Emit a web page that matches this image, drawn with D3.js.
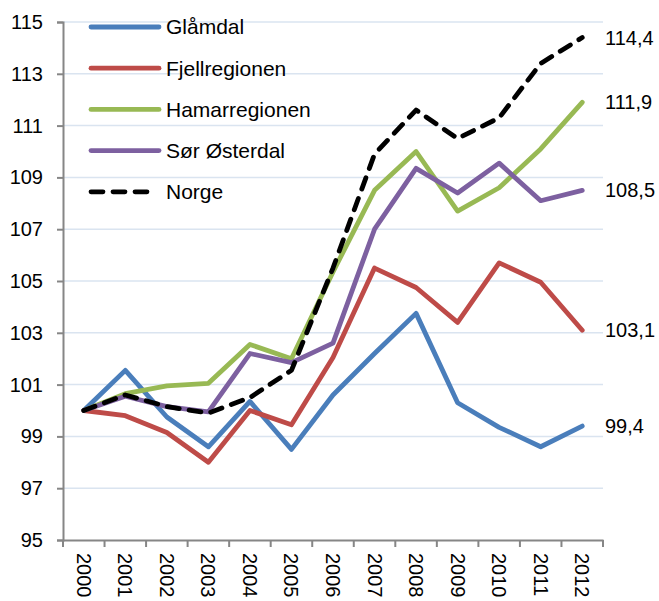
<!DOCTYPE html>
<html>
<head>
<meta charset="utf-8">
<script src="https://cdn.jsdelivr.net/npm/d3@7"></script>
<style>
  body { margin: 0; background: #fff; }
  text { font-family: "Liberation Sans", Arial, sans-serif; fill: #000; }
</style>
</head>
<body>
<div id="chart"></div>
<script>
// data
var years = ["2000", "2001", "2002", "2003", "2004", "2005", "2006", "2007", "2008", "2009", "2010", "2011", "2012"];
var glamdal = [100, 101.55, 99.75, 98.6, 100.35, 98.5, 100.6, 102.2, 103.75, 100.3, 99.35, 98.6, 99.4];
var fjellregionen = [100, 99.8, 99.15, 98.0, 100.0, 99.45, 102.05, 105.5, 104.75, 103.4, 105.7, 104.95, 103.1];
var hamarregionen = [100, 100.65, 100.95, 101.05, 102.55, 102.0, 105.35, 108.5, 110.0, 107.7, 108.6, 110.1, 111.9];
var sorOsterdal = [100, 100.55, 100.15, 99.95, 102.2, 101.85, 102.6, 107.0, 109.35, 108.4, 109.55, 108.1, 108.5];
var norge = [100, 100.6, 100.15, 99.9, 100.5, 101.55, 105.5, 109.9, 111.6, 110.5, 111.3, 113.4, 114.4];
var endLabels = ["99,4", "103,1", "111,9", "108,5", "114,4"];
var yTicks = [95, 97, 99, 101, 103, 105, 107, 109, 111, 113, 115];

var series = [
  { name: "Glåmdal", values: glamdal, color: "#4a7ebb", dash: null },
  { name: "Fjellregionen", values: fjellregionen, color: "#be4b48", dash: null },
  { name: "Hamarregionen", values: hamarregionen, color: "#98b954", dash: null },
  { name: "Sør Østerdal", values: sorOsterdal, color: "#7d60a0", dash: null },
  { name: "Norge", values: norge, color: "#000000", dash: "12,10" }
];

var width = 659, height = 601;
var plot = { left: 63, right: 603, top: 22, bottom: 540 };

var svg = d3.select("#chart").append("svg")
  .attr("width", width)
  .attr("height", height);

var x = d3.scaleBand().domain(years).range([plot.left, plot.right]).padding(0);
var y = d3.scaleLinear().domain([95, 115]).range([plot.bottom, plot.top]);

// gridlines
svg.append("g").selectAll("line").data(yTicks.slice(1)).enter()
  .append("line")
  .attr("x1", plot.left).attr("x2", plot.right)
  .attr("y1", function (d) { return y(d); })
  .attr("y2", function (d) { return y(d); })
  .attr("stroke", "#dae4f0")
  .attr("stroke-width", 1.5);

// y axis
var yAxis = svg.append("g")
  .attr("transform", "translate(" + plot.left + ",0)")
  .call(d3.axisLeft(y).tickValues(yTicks).tickSize(6).tickPadding(14).tickFormat(d3.format("d")));
yAxis.select(".domain").attr("stroke", "#868686").attr("stroke-width", 2);
yAxis.selectAll(".tick line").attr("stroke", "#868686").attr("stroke-width", 2);
yAxis.selectAll("text").style("font-size", "20px").attr("fill", "#000")
  .style("font-family", "Liberation Sans, Arial, sans-serif");

// x axis
var xAxis = svg.append("g")
  .attr("transform", "translate(0," + plot.bottom + ")")
  .call(d3.axisBottom(x).tickSize(0).tickFormat(""));
xAxis.select(".domain").attr("stroke", "#868686").attr("stroke-width", 2);
xAxis.selectAll(".tick").remove();

// x tick marks between categories
svg.append("g").selectAll("line").data(years.concat(["end"])).enter()
  .append("line")
  .attr("x1", function (d, i) { return plot.left + i * x.bandwidth(); })
  .attr("x2", function (d, i) { return plot.left + i * x.bandwidth(); })
  .attr("y1", plot.bottom)
  .attr("y2", plot.bottom + 7)
  .attr("stroke", "#868686")
  .attr("stroke-width", 2);

// x labels, rotated
svg.append("g").selectAll("text").data(years).enter()
  .append("text")
  .attr("transform", function (d) {
    return "translate(" + (x(d) + x.bandwidth() / 2) + "," + (plot.bottom + 13) + ") rotate(90)";
  })
  .attr("dy", "0.35em")
  .style("font-size", "20px")
  .text(function (d) { return d; });

// lines
var line = d3.line()
  .x(function (d, i) { return x(years[i]) + x.bandwidth() / 2; })
  .y(function (d) { return y(d); });

svg.append("g").selectAll("path").data(series).enter()
  .append("path")
  .attr("d", function (d) { return line(d.values); })
  .attr("fill", "none")
  .attr("stroke", function (d) { return d.color; })
  .attr("stroke-width", 4.8)
  .attr("stroke-linejoin", "round")
  .attr("stroke-linecap", "round")
  .attr("stroke-dasharray", function (d) { return d.dash; });

// end labels
svg.append("g").selectAll("text").data(series).enter()
  .append("text")
  .attr("x", plot.right + 2)
  .attr("y", function (d) { return y(d.values[d.values.length - 1]); })
  .attr("dy", "0.35em")
  .style("font-size", "20px")
  .text(function (d, i) { return endLabels[i]; });

// legend
var legend = svg.append("g").selectAll("g").data(series).enter()
  .append("g")
  .attr("transform", function (d, i) { return "translate(89," + (27 + i * 41.2) + ")"; });

legend.append("line")
  .attr("x1", 2).attr("x2", function (d) { return d.dash ? 64 : 70; })
  .attr("y1", 0).attr("y2", 0)
  .attr("stroke", function (d) { return d.color; })
  .attr("stroke-width", 4.8)
  .attr("stroke-linecap", "round")
  .attr("stroke-dasharray", function (d) { return d.dash ? "12,10" : null; });

legend.append("text")
  .attr("x", 77)
  .attr("dy", "0.35em")
  .style("font-size", "21px")
  .text(function (d) { return d.name; });
</script>
</body>
</html>
